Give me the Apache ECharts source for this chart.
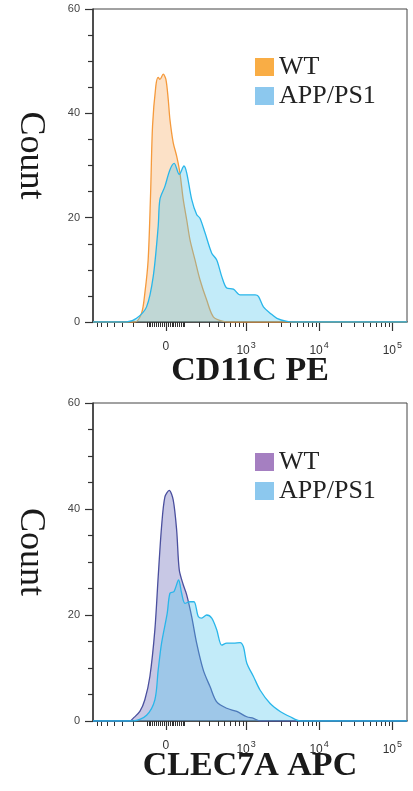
<!DOCTYPE html>
<html>
<head>
<meta charset="utf-8">
<script src="https://cdn.jsdelivr.net/npm/echarts@6/dist/echarts.min.js"></script>
<style>
  html, body { margin: 0; padding: 0; background: #fff; }
  #chart { width: 413px; height: 791px; }
</style>
</head>
<body>
<div id="chart"></div>
<script>
// Positions are on the logicle display scale (0 sits at 2, one decade is ~1 unit).
const cd11cWtPos   = [0.99, 1.569, 1.663, 1.708, 1.754, 1.788, 1.815, 1.861, 1.893, 1.917, 1.963, 2.0, 2.032, 2.056, 2.101, 2.149, 2.194, 2.24, 2.288, 2.333, 2.403, 2.472, 2.565, 2.657, 2.796, 2.889, 5.34];
const cd11cWtCount = [0, 0, 1.7, 5.5, 11.9, 24.7, 37.6, 45.3, 46.9, 46.5, 47.5, 46.5, 42.7, 38.8, 34.4, 31.8, 28.6, 23.5, 19.6, 15.8, 11.9, 8.1, 4.2, 1.0, 0.1, 0, 0];

const cd11cAppPos   = [0.99, 1.454, 1.593, 1.732, 1.824, 1.893, 1.917, 1.986, 2.056, 2.115, 2.185, 2.25, 2.288, 2.357, 2.426, 2.472, 2.542, 2.635, 2.704, 2.774, 2.843, 2.935, 3.028, 3.167, 3.236, 3.282, 3.351, 3.444, 3.538, 3.676, 3.768, 5.34];
const cd11cAppCount = [0, 0, 0.7, 2.9, 8.7, 18.3, 23.5, 26.0, 29.2, 30.4, 28.3, 29.9, 28.6, 23.5, 20.6, 19.9, 17.1, 13.2, 11.9, 8.7, 6.5, 6.3, 5.2, 5.2, 5.2, 4.9, 2.9, 1.7, 0.7, 0.1, 0, 0];

const clec7aWtPos   = [0.99, 1.5, 1.546, 1.639, 1.708, 1.778, 1.847, 1.893, 1.94, 1.986, 2.046, 2.101, 2.149, 2.185, 2.24, 2.288, 2.357, 2.426, 2.518, 2.611, 2.704, 2.843, 2.982, 3.121, 3.213, 3.306, 5.34];
const clec7aWtCount = [0, 0, 0.5, 1.8, 4.0, 8.4, 17.2, 27.2, 36.7, 42.3, 43.5, 41.7, 36.0, 28.5, 25.7, 23.8, 19.7, 14.7, 9.6, 6.5, 3.6, 2.4, 1.8, 0.8, 0.5, 0, 0];

const clec7aAppPos   = [0.99, 1.546, 1.732, 1.847, 1.893, 1.94, 2.018, 2.056, 2.111, 2.176, 2.218, 2.264, 2.333, 2.389, 2.449, 2.496, 2.565, 2.635, 2.704, 2.774, 2.843, 2.935, 3.028, 3.074, 3.121, 3.213, 3.306, 3.444, 3.583, 3.722, 3.861, 5.34];
const clec7aAppCount = [0, 0, 1.1, 4.0, 9.6, 14.7, 20.3, 24.1, 24.4, 26.6, 24.1, 22.2, 22.5, 22.5, 19.7, 19.4, 20.0, 19.4, 17.2, 14.3, 14.7, 14.7, 14.8, 14.0, 10.9, 8.4, 5.8, 3.3, 1.8, 0.8, 0, 0];

// Tick values in fluorescence units
const majorTickValues = [0, 1e3, 1e4, 1e5];
const minorTickValues = [
  -900, -800, -700, -600, -500, -400, -300, -200, -100,
  -90, -80, -70, -60, -50, -40, -30, -20, -10,
  10, 20, 30, 40, 50, 60, 70, 80, 90,
  100, 200, 300, 400, 500, 600, 700, 800, 900,
  2000, 3000, 4000, 5000, 6000, 7000, 8000, 9000,
  20000, 30000, 40000, 50000, 60000, 70000, 80000, 90000,
  200000
];

const X_MIN = 0.99, X_MAX = 5.34;
// arcsinh-based logicle approximation: value -> display position
const DECADE = 1.014, COFACTOR = 80.7;
function toDisplay(v) {
  return 2 + DECADE * Math.asinh(v / (2 * COFACTOR)) / Math.LN10;
}
const majorPos = majorTickValues.map(toDisplay);
const minorPos = minorTickValues.map(toDisplay).filter(p => p >= X_MIN && p <= X_MAX);

function formatMajor(pos) {
  let best = 0;
  majorPos.forEach((p, i) => { if (Math.abs(p - pos) < Math.abs(majorPos[best] - pos)) best = i; });
  const v = majorTickValues[best];
  if (v === 0) return '{z|0}';
  return '{b|10}{e|' + Math.round(Math.log10(v)) + '}';
}

const zip = (xs, ys) => xs.map((x, i) => [x, ys[i]]);

const panels = [
  {
    top: 9, height: 313, title: 'CD11C PE', legendTop: 49, nameGap: 32,
    series: [
      { key: 'CD11C WT', label: 'WT', pos: cd11cWtPos, count: cd11cWtCount,
        line: '#F59A3C', fill: 'rgba(245,160,80,0.45)', swatch: '#F9AD45' },
      { key: 'CD11C APP', label: 'APP/PS1', pos: cd11cAppPos, count: cd11cAppCount,
        line: '#29B6EA', fill: 'rgba(83,197,237,0.5)', swatch: '#8CC8EE' }
    ]
  },
  {
    top: 403, height: 318, title: 'CLEC7A APC', legendTop: 444, nameGap: 28,
    series: [
      { key: 'CLEC7A WT', label: 'WT', pos: clec7aWtPos, count: clec7aWtCount,
        line: '#4A4F9E', fill: 'rgba(100,100,180,0.5)', swatch: '#A57FC1' },
      { key: 'CLEC7A APP', label: 'APP/PS1', pos: clec7aAppPos, count: clec7aAppCount,
        line: '#29B6EA', fill: 'rgba(83,197,237,0.5)', swatch: '#8CC8EE' }
    ]
  }
];

const labelOf = {};
panels.forEach(p => p.series.forEach(s => { labelOf[s.key] = s.label; }));

const axisColor = '#333';
const sansFont = 'Liberation Sans, Arial, sans-serif';
const serifFont = 'Liberation Serif, Times New Roman, serif';

const option = {
  backgroundColor: '#fff',
  animation: false,
  grid: panels.map(p => ({
    left: 93, width: 314, top: p.top, height: p.height,
    outerBoundsMode: 'none', containLabel: false,
    show: true, borderColor: '#444', borderWidth: 1, backgroundColor: 'transparent'
  })),
  xAxis: [],
  yAxis: [],
  legend: panels.map(p => ({
    left: 250, top: p.legendTop, orient: 'vertical',
    itemWidth: 19, itemHeight: 18, itemGap: 3, icon: 'rect',
    selectedMode: false,
    formatter: n => labelOf[n],
    textStyle: { fontFamily: serifFont, fontSize: 26, color: '#222' },
    data: p.series.map(s => ({ name: s.key, icon: 'rect', itemStyle: { color: s.swatch, borderWidth: 0 } }))
  })),
  series: []
};

panels.forEach((p, gi) => {
  // main x axis: line, major ticks, labels, title
  option.xAxis.push({
    type: 'value', gridIndex: gi, min: X_MIN, max: X_MAX, position: 'bottom',
    axisLine: { show: true, onZero: false, lineStyle: { color: axisColor, width: 1.5 } },
    axisTick: { show: true, customValues: majorPos, length: 9, lineStyle: { color: axisColor, width: 1.2 } },
    axisLabel: {
      show: true, customValues: majorPos, margin: 19, color: '#333',
      formatter: formatMajor,
      rich: {
        z: { fontFamily: sansFont, fontSize: 12, color: '#333' },
        b: { fontFamily: sansFont, fontSize: 12, color: '#333', verticalAlign: 'bottom' },
        e: { fontFamily: sansFont, fontSize: 9, color: '#333', verticalAlign: 'bottom', padding: [0, 0, 7, 1] }
      }
    },
    splitLine: { show: false },
    name: p.title, nameLocation: 'middle', nameGap: p.nameGap, nameMoveOverlap: false,
    nameTextStyle: { fontFamily: serifFont, fontSize: 34, fontWeight: 'bold', color: '#1a1a1a' }
  });
  // companion axis carrying the minor ticks
  option.xAxis.push({
    type: 'value', gridIndex: gi, min: X_MIN, max: X_MAX, position: 'bottom', offset: 0,
    axisLine: { show: false },
    axisTick: { show: true, customValues: minorPos, length: 5, lineStyle: { color: axisColor, width: 1 } },
    axisLabel: { show: false },
    splitLine: { show: false }
  });
  option.yAxis.push({
    type: 'value', gridIndex: gi, min: 0, max: 60, interval: 20,
    axisLine: { show: true, lineStyle: { color: axisColor, width: 1.5 } },
    axisTick: { show: true, length: 8, lineStyle: { color: axisColor, width: 1.2 } },
    minorTick: { show: true, splitNumber: 4, length: 5, lineStyle: { color: axisColor, width: 1.2 } },
    axisLabel: { show: true, margin: 13, fontFamily: sansFont, fontSize: 11, color: '#444' },
    splitLine: { show: false },
    name: 'Count', nameLocation: 'middle', nameRotate: -90, nameGap: 45, nameMoveOverlap: false,
    nameTextStyle: { fontFamily: serifFont, fontSize: 36, color: '#1a1a1a', padding: [0, 20, 0, 0] }
  });
  p.series.forEach((s, si) => {
    option.series.push({
      name: s.key, type: 'line', xAxisIndex: gi * 2, yAxisIndex: gi,
      data: zip(s.pos, s.count),
      showSymbol: false, symbol: 'none', smooth: 0.3,
      itemStyle: { color: s.swatch },
      lineStyle: { color: s.line, width: 1.3 },
      areaStyle: { color: s.fill, origin: 'start' },
      z: 2 + si
    });
  });
});

const chart = echarts.init(document.getElementById('chart'));
chart.setOption(option);
</script>
</body>
</html>
